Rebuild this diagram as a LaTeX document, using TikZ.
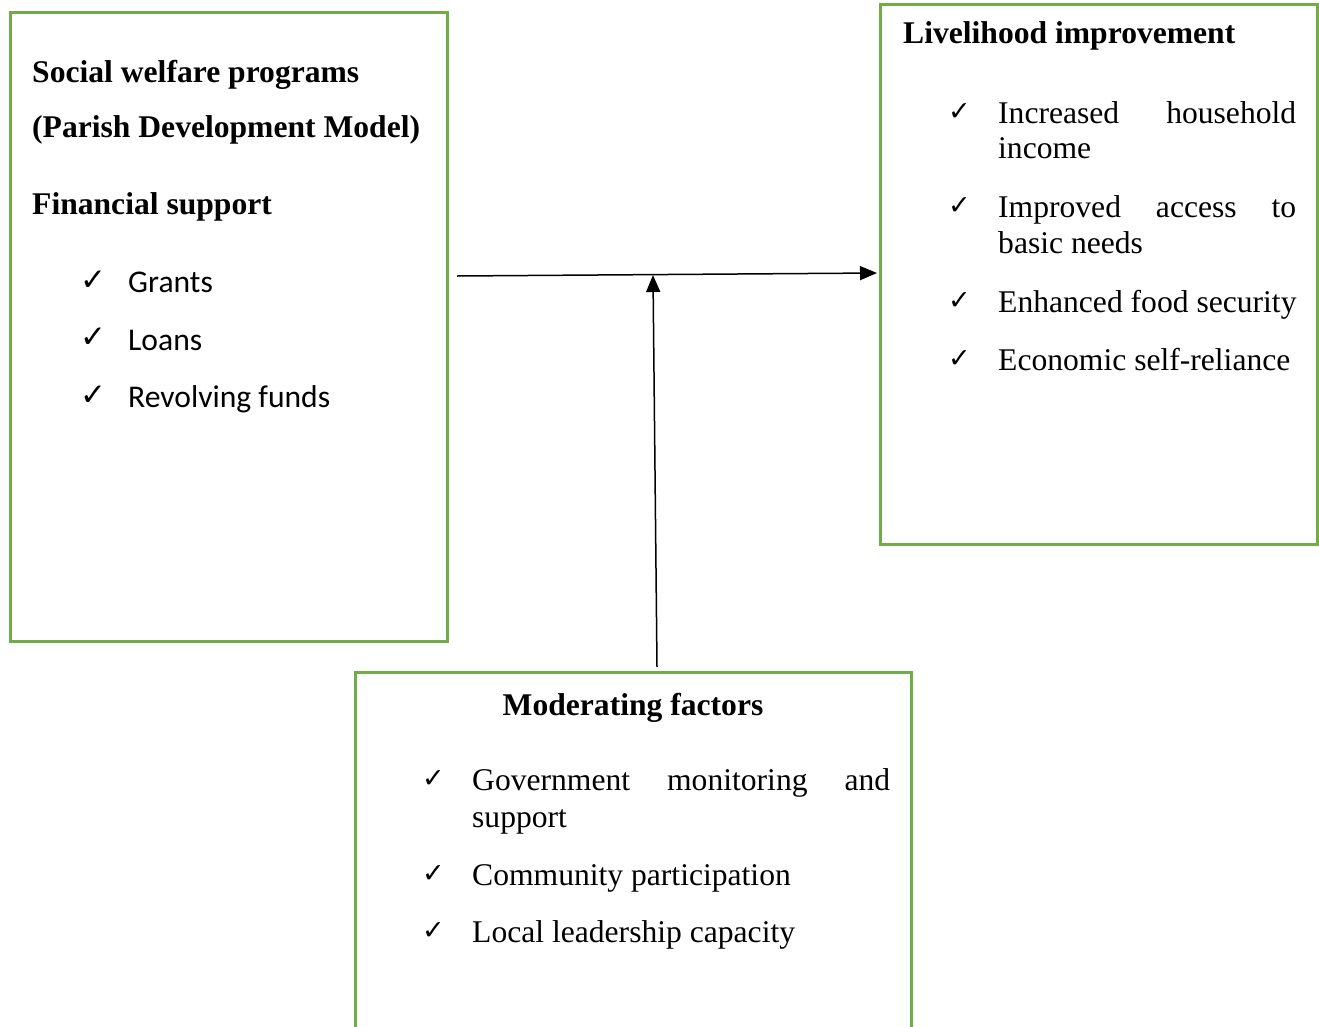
\documentclass[tikz,border=0pt]{standalone}
\usepackage{fontspec}
\setmainfont{Liberation Serif}
\newfontfamily\calfont{Carlito}
\newfontfamily\symfont{DejaVu Sans}
\usetikzlibrary{arrows.meta}
\definecolor{boxgreen}{HTML}{70AD47}
\tikzset{
  frame/.style={draw=boxgreen, line width=3pt},
  txt/.style={inner sep=0pt, anchor=base west, font=\fontsize{31.6}{37}\selectfont},
  ttl/.style={txt, font=\fontsize{31.6}{37}\selectfont\bfseries},
  cal/.style={txt, font=\fontsize{31.6}{37}\selectfont\calfont},
  chk/.style={inner sep=0pt, anchor=base west, font=\fontsize{27}{30}\selectfont\symfont\bfseries},
  chkbig/.style={inner sep=0pt, anchor=base west, font=\fontsize{31}{34}\selectfont\symfont\bfseries},
  conn/.style={line width=1.5pt, -{Triangle[length=17pt,width=14pt]}}
}
\begin{document}
\begin{tikzpicture}[x=1pt,y=-1pt]
\useasboundingbox (0,0) rectangle (1319,1026);
\fill[white] (0,0) rectangle (1319,1026);

% boxes
\draw[frame] (10,12) rectangle (447,641);
\draw[frame] (880,4) rectangle (1317,544);
\draw[frame] (355,1030) -- (355,672) -- (911,672) -- (911,1030);

% left box
\node[ttl] (t1) at (32,82) {Social welfare programs};
\node[ttl] (t2) at (32,137) {(Parish Development Model)};
\node[ttl] (t3) at (32,214) {Financial support};
\node[chkbig] (c1) at (80,290) {✓};
\node[cal] (l1) at (128,292) {Grants};
\node[chkbig] (c2) at (80,347) {✓};
\node[cal] (l2) at (128,350) {Loans};
\node[chkbig] (c3) at (80,405) {✓};
\node[cal] (l3) at (128,407) {Revolving funds};

% right box
\node[ttl] (r0) at (903,43) {Livelihood improvement};
\node[chk] (rc1) at (948,120) {✓};
\node[txt] (r1) at (998,123) {\hbox to 298pt{Increased\hfill household}};
\node[txt] (r1b) at (998,158) {income};
\node[chk] (rc2) at (948,214) {✓};
\node[txt] (r2) at (998,217) {\hbox to 298pt{Improved\hfill access\hfill to}};
\node[txt] (r2b) at (998,253) {basic needs};
\node[chk] (rc3) at (948,309) {✓};
\node[txt] (r3) at (998,312) {Enhanced food security};
\node[chk] (rc4) at (948,367) {✓};
\node[txt] (r4) at (998,370) {Economic self-reliance};

% bottom box
\node[ttl, anchor=base] (b0) at (633,715) {Moderating factors};
\node[chk] (bc1) at (422,787) {✓};
\node[txt] (b1) at (472,790) {\hbox to 418pt{Government\hfill monitoring\hfill and}};
\node[txt] (b1b) at (472,827) {support};
\node[chk] (bc2) at (422,882) {✓};
\node[txt] (b2) at (472,885) {Community participation};
\node[chk] (bc3) at (422,939) {✓};
\node[txt] (b3) at (472,942) {Local leadership capacity};

% connectors
\coordinate (hs) at (457,276);
\coordinate (he) at (877,273);
\coordinate (vs) at (657,667);
\coordinate (ve) at (653,275);
\draw[conn] (hs) -- (he);
\draw[conn] (vs) -- (ve);
\end{tikzpicture}
\end{document}
